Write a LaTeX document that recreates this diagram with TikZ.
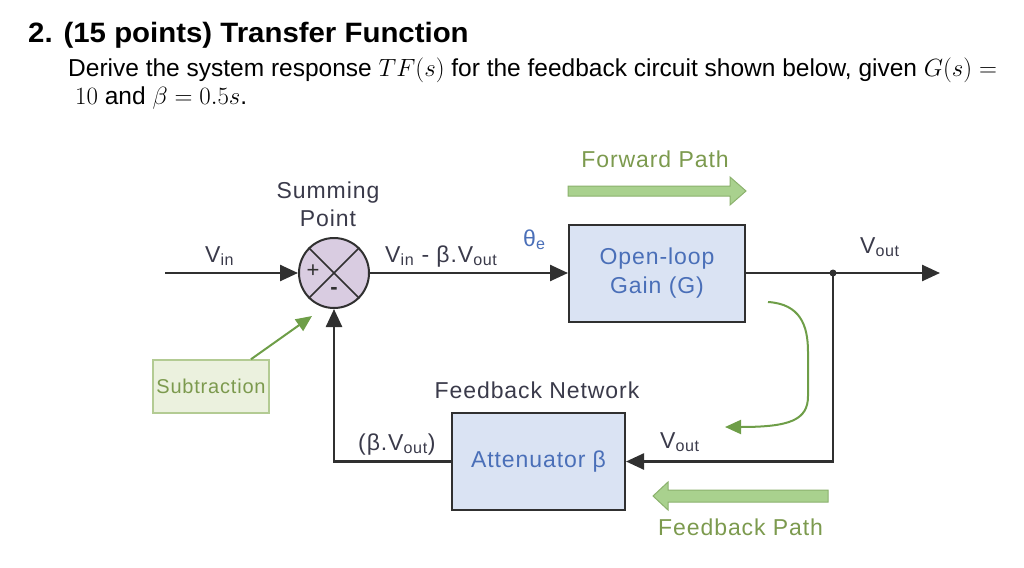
\documentclass[tikz,border=0pt]{standalone}
\usepackage{fontspec}
\setmainfont{Liberation Sans}
\newfontfamily\diagfont{Liberation Sans}[LetterSpace=4]
\newfontfamily\titlefont{Liberation Sans}[FakeStretch=1.05]
\usetikzlibrary{arrows.meta}

\definecolor{linegray}{HTML}{303030}
\definecolor{boxblue}{HTML}{DAE3F3}
\definecolor{textblue}{HTML}{4A6FB8}
\definecolor{sumlilac}{HTML}{D9CCE1}
\definecolor{pathgreen}{HTML}{A9D18E}
\definecolor{edgegreen}{HTML}{6E9E48}
\definecolor{notegreen}{HTML}{EBF1DE}
\definecolor{notegreenline}{HTML}{B3CB93}
\definecolor{labelgreen}{HTML}{7C9A4E}
\definecolor{labelgray}{HTML}{3A3A4A}

\begin{document}
\begin{tikzpicture}[x=1pt, y=-1pt,
    sig/.style = {draw=linegray, line width=2.5pt, -{Triangle[length=18pt,width=16pt]}},
    wire/.style = {draw=linegray, line width=2.5pt},
    block/.style = {draw=linegray, line width=2pt, fill=boxblue, minimum width=176pt, minimum height=97pt, align=center, text=textblue, font=\diagfont\fontsize{23}{29}\selectfont},
    sumpt/.style = {draw=linegray, line width=2pt, fill=sumlilac, circle, minimum size=70pt, inner sep=0pt},
    lbl/.style = {text=labelgray, font=\diagfont\fontsize{23}{28}\selectfont, inner sep=0pt, anchor=base west},
    glbl/.style = {lbl, text=labelgreen},
    note/.style = {draw=notegreenline, line width=1.5pt, fill=notegreen, minimum width=114pt, minimum height=53pt, text=labelgreen, font=\diagfont\fontsize{20}{24}\selectfont},
    fat/.style = {draw=edgegreen!80, line width=1pt, fill=pathgreen},
    hint/.style = {draw=edgegreen, line width=2pt, -{Triangle[length=16pt,width=14pt]}},
    head/.style = {anchor=base west, inner sep=0pt, text=black}]

    \useasboundingbox (0,0) rectangle (1024,567);

    % question text
    \node[head, font=\titlefont\bfseries\fontsize{28}{32}\selectfont] (title) at (28,43) {2. (15 points) Transfer Function};
    \node[head, font=\fontsize{24.5}{29}\selectfont] (task) at (68,77) {Derive the system response $TF(s)$ for the feedback circuit shown below, given $G(s) =$};
    \node[head, font=\fontsize{24.5}{29}\selectfont] (task2) at (75,105) {$10$ and $\beta = 0.5s$.};

    % blocks
    \node[sumpt] (sum) at (334,273) {};
    \node[block] (gain) at (657,273) {Open-loop\\Gain (G)};
    \node[block, minimum width=173pt] (atten) at (538.5,461.5) {Attenuator β};
    \node[note] (sub) at (211,386.5) {Subtraction};

    \draw[linegray, line width=1.5pt] (sum.north west) -- (sum.south east);
    \draw[linegray, line width=1.5pt] (sum.north east) -- (sum.south west);
    \node[text=linegray, font=\fontsize{22}{22}\selectfont] (plus) at (313,271) {+};
    \node[text=linegray, font=\bfseries\fontsize{22}{22}\selectfont] (minus) at (334,291) {-};

    \coordinate (vin) at (165,273);
    \coordinate (split) at (833,273);
    \coordinate (vout) at (940,273);
    \fill[linegray] (split) circle (3.5pt);

    % signal path
    \draw[sig] (vin) -- (sum.west);
    \draw[sig] (sum.east) -- (gain.west);
    \draw[wire] (gain.east) -- (split);
    \draw[sig] (split) -- (vout);
    \draw[sig] (split) |- (atten.east);
    \draw[sig] (atten.west) -| (sum.south);

    % labels
    \node[lbl, anchor=center, align=center] (sumlbl) at (328,204) {Summing\\Point};
    \node[lbl] (vinlbl) at (205,262) {V\textsubscript{in}};
    \node[lbl] (errlbl) at (385,262) {V\textsubscript{in} - β.V\textsubscript{out}};
    \node[lbl, text=textblue] (theta) at (523,246) {θ\textsubscript{e}};
    \node[lbl] (voutlbl) at (860,253) {V\textsubscript{out}};
    \node[lbl, anchor=base] (fbnet) at (537,398) {Feedback Network};
    \node[lbl] (fblbl) at (358,450) {(β.V\textsubscript{out})};
    \node[lbl] (voutlbl2) at (660,448) {V\textsubscript{out}};
    \node[glbl, anchor=base] (fwdlbl) at (655,167) {Forward Path};
    \node[glbl] (backlbl) at (658,535) {Feedback Path};

    % green hints
    \draw[fat] (568,186) -- (730,186) -- (730,177) -- (746,191) -- (730,205) -- (730,196) -- (568,196) -- cycle;
    \draw[fat] (828,490) -- (668,490) -- (668,482) -- (653,496) -- (668,510) -- (668,502) -- (828,502) -- cycle;

    \coordinate (subtip) at (312,316);
    \draw[hint] ([xshift=40pt]sub.north) -- (subtip);

    \coordinate (loopstart) at (768,302);
    \coordinate (looptip) at (725,427);
    \draw[hint] (loopstart) .. controls (800,304) and (808,325) .. (808,352) -- (808,396) .. controls (808,420) and (790,427) .. (looptip);
\end{tikzpicture}
\end{document}
